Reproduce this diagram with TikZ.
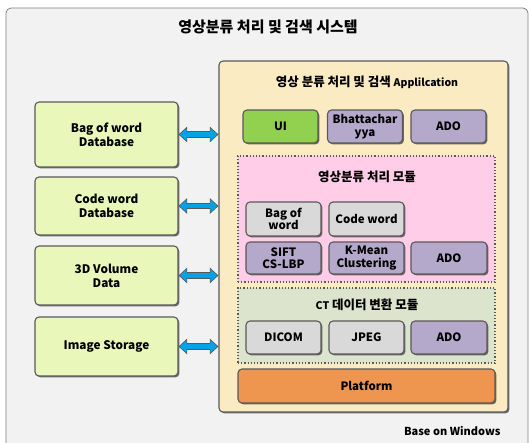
\documentclass[tikz,border=0pt]{standalone}
\usepackage{fontspec}
\setmainfont{Noto Sans CJK KR}
\usetikzlibrary{positioning, shadows, arrows.meta, calc}

\definecolor{panelgray}{HTML}{F2F2F2}
\definecolor{edgegray}{HTML}{595959}
\definecolor{storegreen}{HTML}{E9F8BA}
\definecolor{appbeige}{HTML}{FAEBC2}
\definecolor{uigreen}{HTML}{92D050}
\definecolor{adopurple}{HTML}{B4A8CB}
\definecolor{partgray}{HTML}{D9D9D9}
\definecolor{modpink}{HTML}{FFCDE8}
\definecolor{modgreen}{HTML}{DDE4CD}
\definecolor{platorange}{HTML}{EE9650}
\definecolor{linkblue}{HTML}{00A3E6}

\begin{document}
\begin{tikzpicture}[x=1pt, y=-1pt,
    font=\bfseries\fontsize{11.5}{12.5}\selectfont,
    blk/.style={rectangle, draw=edgegray, line width=1.1pt, rounded corners=4pt, align=center, inner sep=1pt,
        drop shadow={shadow xshift=1.4pt, shadow yshift=-1.4pt, opacity=0.55, fill=black}},
    store/.style={blk, fill=storegreen, minimum width=143pt, minimum height=59pt, font=\bfseries\fontsize{11.8}{14}\selectfont},
    part/.style={blk, minimum width=75pt, minimum height=33pt},
    uipart/.style={part, fill=uigreen},
    adopart/.style={part, fill=adopurple},
    greypart/.style={part, fill=partgray},
    module/.style={rectangle, draw=edgegray, line width=1.2pt, dotted, minimum width=257pt},
    linkout/.style={{Triangle[length=8.5pt,width=15pt]}-{Triangle[length=8.5pt,width=15pt]}, line width=6.6pt, draw=edgegray},
    linkin/.style={{Triangle[length=6.8pt,width=12pt]}-{Triangle[length=6.8pt,width=12pt]}, line width=4.4pt, draw=linkblue, shorten <=1.2pt, shorten >=1.2pt}
]
    \useasboundingbox (0,0) rectangle (529,442);

    % Background panel
    \draw[draw=gray, fill=panelgray, line width=0.8pt, rounded corners=5pt] (6,8) rectangle (528,460);
    \node (title) at (268,27) {\fontsize{15}{17}\selectfont 영상분류 처리 및 검색 시스템};

    % Application frame
    \node[blk, fill=appbeige, minimum width=289pt, minimum height=351pt] (app) at (363.5,236.5) {};
    \node (apptitle) at (367,82) {\fontsize{12.5}{14}\selectfont 영상 분류 처리 및 검색 {\fontsize{10.5}{12}\selectfont Applilcation}};

    % Application parts
    \node[uipart] (ui) at (280.5,126.5) {UI};
    \node[adopart] (bhat) at (365,126.5) {Bhattachar\\yya};
    \node[adopart] (ado1) at (448.5,126.5) {ADO};

    % Classification module
    \node[module, fill=modpink, minimum height=126pt] (classmod) at (366.5,219) {};
    \node (classtitle) at (367,177) {\fontsize{12.5}{14}\selectfont 영상분류 처리 모듈};
    \node[greypart, minimum height=34pt] (bow) at (283.5,219) {Bag of\\word};
    \node[greypart, minimum height=34pt] (codeword) at (366.5,219) {Code word};
    \node[adopart, minimum height=32pt] (sift) at (283.5,258) {SIFT\\CS-LBP};
    \node[adopart, minimum height=32pt] (kmean) at (366.5,258) {K-Mean\\Clustering};
    \node[adopart, minimum height=32pt, minimum width=76pt] (ado2) at (449,258) {ADO};

    % CT conversion module
    \node[module, fill=modgreen, minimum height=75pt] (ctmod) at (366.5,325.5) {};
    \node (cttitle) at (367,305) {\fontsize{12.5}{14}\selectfont{\fontsize{10.5}{12}\selectfont CT} 데이터 변환 모듈};
    \node[greypart] (dicom) at (283.5,337.5) {DICOM};
    \node[greypart] (jpeg) at (366.5,337.5) {JPEG};
    \node[adopart, minimum width=76pt] (ado3) at (449,337.5) {ADO};

    % Platform
    \node[blk, fill=platorange, minimum width=257pt, minimum height=34pt] (platform) at (366.5,386) {Platform};
    \node[anchor=east, font=\bfseries\fontsize{11}{12}\selectfont] (os) at (504,431) {Base on Windows};

    % Storage
    \node[store, minimum height=65pt] (bowdb) at (106.5,134.5) {Bag of word\\Database};
    \node[store, minimum height=58pt] (cwdb) at (106.5,206) {Code word\\Database};
    \node[store] (volume) at (106.5,275.5) {3D Volume\\Data};
    \node[store] (images) at (106.5,346.5) {Image Storage};

    % Links to the application
    \foreach \s in {bowdb, cwdb, volume, images} {
        \draw[linkout] (\s.east) -- (\s.east -| app.west);
        \draw[linkin] (\s.east) -- (\s.east -| app.west);
    }
\end{tikzpicture}
\end{document}
